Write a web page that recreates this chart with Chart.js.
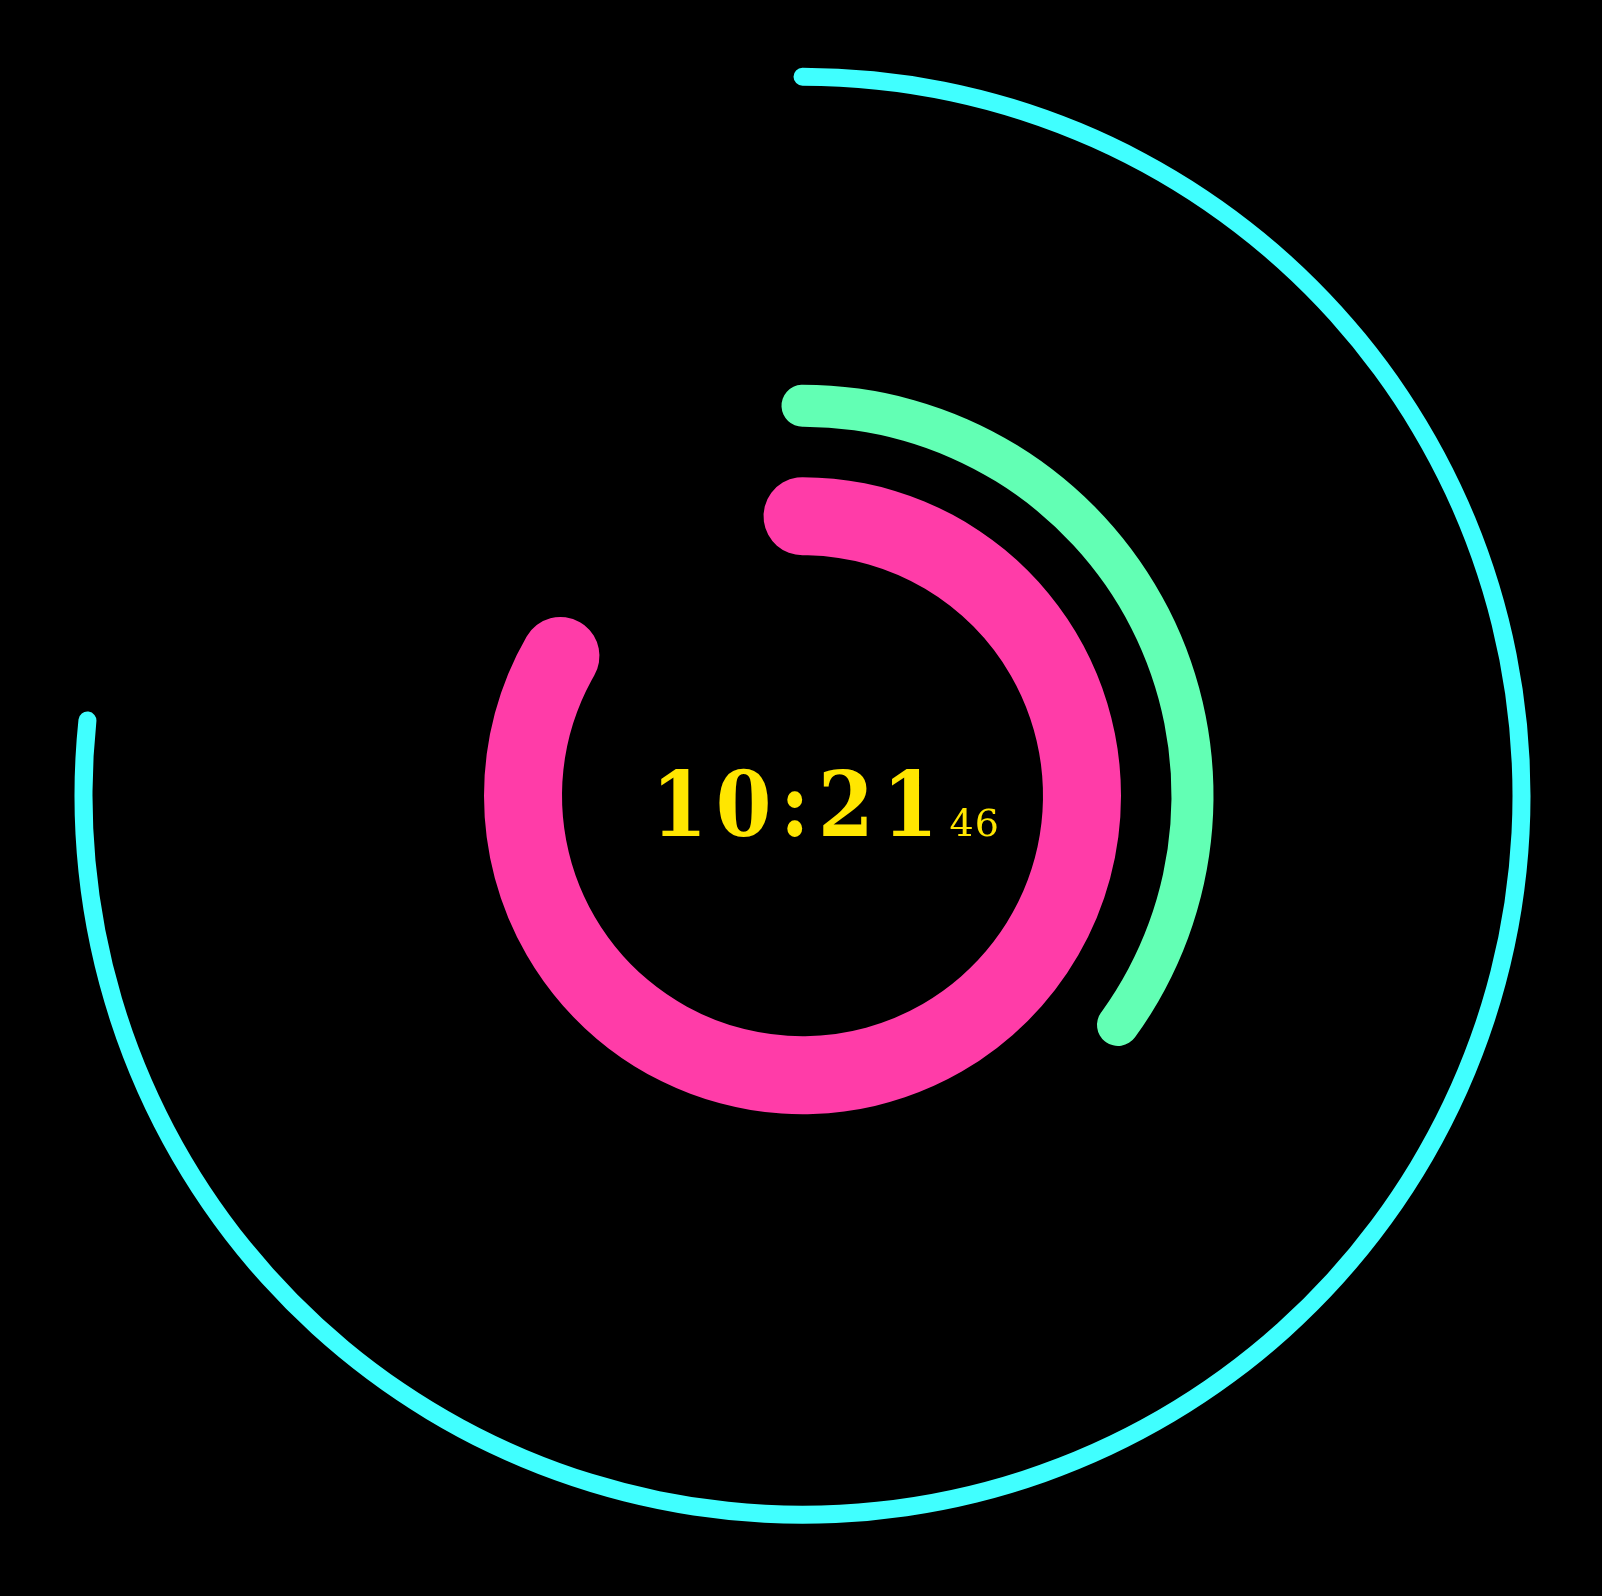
<!DOCTYPE html>
<html>
<head>
<meta charset="utf-8">
<title>Clock rings</title>
<script src="https://cdn.jsdelivr.net/npm/chart.js@4/dist/chart.umd.min.js"></script>
<style>
  html, body { margin: 0; padding: 0; background: #000; }
  #wrap { width: 1602px; height: 1596px; }
</style>
</head>
<body>
<div id="wrap"><canvas id="clockChart"></canvas></div>
<script>
// clock data: outermost ring first
const ringLabels = ['Seconds', 'Minutes', 'Hours'];
const ringValues = [46, 21, 10];
const ringMax = [60, 60, 12];
const clockText = '10:21';
const secondsText = '46';

// styling (pixels)
const ringColors = ['#40ffff', '#62ffb4', '#ff3ca8'];
const ringThickness = [18, 42, 78];
const ringGaps = [299, 50.5]; // space after seconds ring, after minutes ring
const outerRadius = 728;
const cutoutPx = 240.5;

function toDeg(r) { return r * 180 / Math.PI; }

// radius where each ring sits, walking in from the outside
const ringOuter = [];
let r = outerRadius;
for (let i = 0; i < ringThickness.length; i++) {
    ringOuter.push(r);
    r -= ringThickness[i];
    if (i < ringGaps.length) r -= ringGaps[i];
}

function ringDataset(i) {
    const half = ringThickness[i] / 2;
    const mid = ringOuter[i] - half;
    const cap = half / mid; // angle the round cap needs on each end
    const sweep = 2 * Math.PI * ringValues[i] / ringMax[i] + 2 * cap;
    const circ = sweep * ringMax[i] / ringValues[i];
    return {
        label: ringLabels[i],
        data: [ringValues[i], ringMax[i] - ringValues[i]],
        backgroundColor: [ringColors[i], 'rgba(0,0,0,0)'],
        borderWidth: 0,
        borderRadius: half,
        weight: ringThickness[i],
        rotation: -toDeg(cap),
        circumference: toDeg(circ)
    };
}

function gapDataset(w) {
    return {
        label: 'gap',
        data: [1],
        backgroundColor: ['rgba(0,0,0,0)'],
        borderWidth: 0,
        weight: w
    };
}

const datasets = [
    ringDataset(0), gapDataset(ringGaps[0]),
    ringDataset(1), gapDataset(ringGaps[1]),
    ringDataset(2)
];

const clockText2 = {
    id: 'clockText',
    afterDraw(chart) {
        const ctx = chart.ctx;
        const a = chart.chartArea;
        const cx = (a.left + a.right) / 2;
        const cy = (a.top + a.bottom) / 2;
        ctx.save();
        ctx.fillStyle = '#ffe600';
        ctx.textBaseline = 'alphabetic';
        ctx.textAlign = 'left';
        ctx.font = 'bold 89px "DejaVu Serif Condensed", "DejaVu Serif"';
        ctx.letterSpacing = '8.5px';
        ctx.fillText(clockText, cx - 151, cy + 40);
        ctx.letterSpacing = '1px';
        ctx.font = '38px "DejaVu Serif"';
        ctx.fillText(secondsText, cx + 147, cy + 40);
        ctx.restore();
    }
};

new Chart(document.getElementById('clockChart'), {
    type: 'doughnut',
    data: { labels: ['value', 'rest'], datasets: datasets },
    options: {
        responsive: true,
        maintainAspectRatio: false,
        animation: false,
        events: [],
        cutout: cutoutPx,
        layout: { padding: { left: 74.5, right: 71.5, top: 67.7, bottom: 72.3 } },
        plugins: {
            legend: { display: false },
            tooltip: { enabled: false }
        }
    },
    plugins: [clockText2]
});
</script>
</body>
</html>
